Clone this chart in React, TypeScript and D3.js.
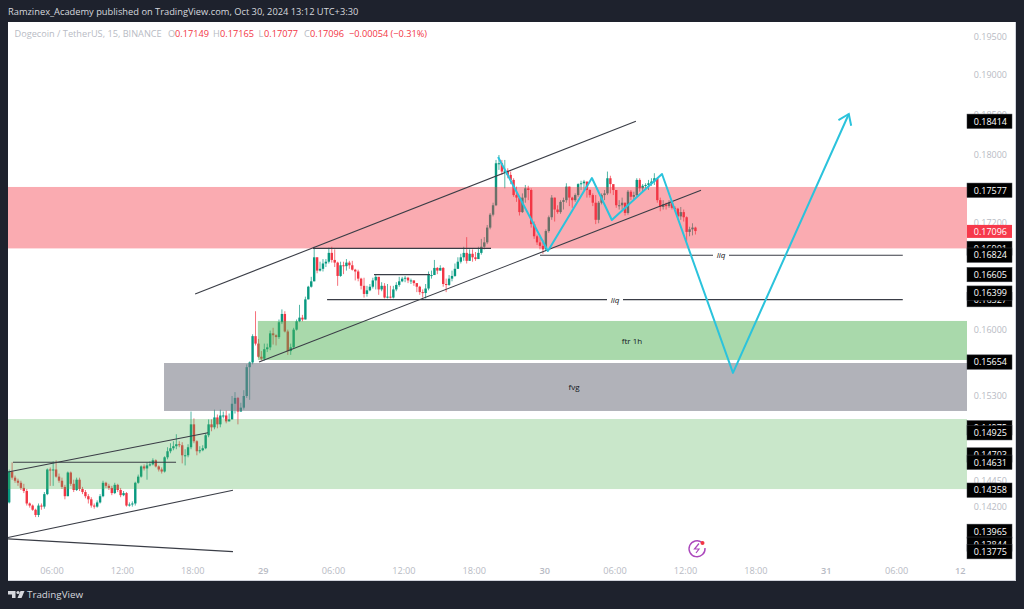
import React from 'react';
import * as d3 from 'd3';

// 15m DOGE/USDT candles, in 1/10000 USDT. Open = previous close.
const firstOpen = 1424;
const closes = [
  1454, 1448, 1445, 1443, 1438, 1435, 1423, 1421, 1417, 1412, 1421, 1420, 1432, 1456, 1455, 1456, 1449, 1445, 1439, 1430,
  1453, 1442, 1436, 1446, 1437, 1434, 1430, 1427, 1421, 1420, 1424, 1430, 1443, 1440, 1438, 1433, 1441, 1436, 1431, 1433,
  1421, 1422, 1423,
  1443, 1449, 1459, 1457, 1460, 1461, 1465, 1459, 1456, 1454, 1468, 1474, 1477, 1479, 1481, 1480, 1470, 1470, 1478,
  1501, 1484, 1474, 1475, 1477, 1490, 1501, 1498, 1508, 1501, 1510, 1510, 1504, 1506, 1522, 1528, 1514, 1518, 1530,
  1560, 1565, 1593, 1585, 1571, 1569, 1579, 1581, 1596, 1594, 1592, 1608, 1617, 1598, 1577, 1581, 1600, 1609, 1613, 1611,
  1633, 1647, 1653,
  1680, 1665, 1667, 1673, 1675, 1685, 1677, 1674, 1659, 1671, 1670, 1674, 1671, 1666, 1664, 1656, 1648, 1639, 1643, 1647,
  1654, 1658, 1644, 1648, 1635, 1636, 1635, 1644, 1649, 1653, 1656, 1657, 1654, 1654, 1651, 1647, 1641, 1640, 1645, 1660,
  1660, 1668, 1665, 1668, 1650, 1649, 1656, 1659, 1667, 1675, 1680, 1685, 1676, 1684, 1680, 1678, 1685, 1692,
  1697, 1714, 1729, 1740, 1790, 1790, 1780, 1781, 1776, 1770, 1752, 1749, 1732, 1749, 1760, 1758, 1718, 1704, 1697, 1693, 1689,
  1710, 1726, 1749, 1735, 1732, 1744, 1746, 1762, 1749, 1746, 1752, 1765, 1766, 1768, 1758, 1752, 1743, 1723,
  1743, 1752, 1754, 1772, 1765, 1758, 1740, 1740, 1743, 1731, 1756, 1750, 1752, 1770, 1760, 1763, 1764, 1766, 1768, 1772,
  1746, 1738, 1741, 1739, 1743, 1737, 1736, 1727, 1732, 1726, 1709, 1712, 1714, 1710,
];
const highs = [
  1456, 1463, 1450, 1447, 1445, 1442, 1437, 1424, 1422, 1418, 1423, 1423, 1434, 1457, 1458, 1464, 1465, 1452, 1448, 1441,
  1454, 1454, 1446, 1448, 1448, 1439, 1436, 1432, 1429, 1423, 1426, 1432, 1445, 1444, 1442, 1440, 1443, 1442, 1438, 1435,
  1434, 1424, 1425,
  1444, 1451, 1460, 1461, 1463, 1464, 1467, 1466, 1460, 1458, 1469, 1478, 1482, 1484, 1491, 1484, 1483, 1476, 1481,
  1514, 1507, 1485, 1479, 1480, 1492, 1506, 1506, 1516, 1511, 1516, 1514, 1515, 1512, 1530, 1534, 1529, 1523, 1536,
  1563, 1566, 1595, 1620, 1590, 1577, 1585, 1585, 1599, 1602, 1595, 1611, 1622, 1620, 1600, 1585, 1602, 1611, 1627, 1616,
  1636, 1648, 1658,
  1692, 1680, 1675, 1678, 1678, 1691, 1692, 1689, 1675, 1675, 1675, 1678, 1676, 1676, 1667, 1666, 1657, 1657, 1648, 1650,
  1657, 1660, 1658, 1652, 1651, 1650, 1648, 1648, 1652, 1658, 1658, 1659, 1658, 1656, 1654, 1651, 1648, 1644, 1650, 1664,
  1665, 1677, 1669, 1671, 1669, 1656, 1660, 1665, 1673, 1680, 1684, 1692, 1703, 1689, 1689, 1686, 1692, 1701,
  1703, 1717, 1731, 1743, 1794, 1800, 1794, 1794, 1784, 1780, 1772, 1762, 1751, 1754, 1764, 1763, 1760, 1721, 1706, 1703, 1700,
  1712, 1728, 1752, 1749, 1740, 1746, 1749, 1766, 1762, 1750, 1754, 1766, 1769, 1770, 1768, 1759, 1754, 1752,
  1745, 1754, 1758, 1780, 1775, 1763, 1758, 1746, 1749, 1743, 1758, 1758, 1756, 1772, 1772, 1765, 1766, 1770, 1772, 1778,
  1772, 1749, 1746, 1743, 1746, 1743, 1739, 1737, 1738, 1735, 1727, 1715, 1719, 1715,
];
const lows = [
  1423, 1446, 1443, 1440, 1436, 1433, 1421, 1419, 1416, 1410, 1410, 1417, 1418, 1431, 1440, 1440, 1448, 1443, 1437, 1427,
  1430, 1440, 1434, 1435, 1435, 1432, 1428, 1423, 1419, 1418, 1419, 1423, 1429, 1438, 1436, 1431, 1432, 1434, 1429, 1430,
  1420, 1420, 1420,
  1421, 1442, 1448, 1455, 1446, 1459, 1460, 1458, 1454, 1452, 1453, 1466, 1472, 1475, 1476, 1478, 1462, 1460, 1468,
  1476, 1482, 1470, 1472, 1474, 1476, 1488, 1494, 1496, 1497, 1498, 1507, 1502, 1504, 1506, 1512, 1501, 1514, 1516,
  1528, 1526, 1563, 1583, 1570, 1567, 1567, 1576, 1578, 1584, 1583, 1590, 1606, 1597, 1573, 1573, 1580, 1599, 1608, 1609,
  1611, 1633, 1646,
  1653, 1662, 1664, 1664, 1669, 1673, 1674, 1669, 1648, 1658, 1661, 1665, 1667, 1665, 1654, 1653, 1644, 1635, 1636, 1642,
  1645, 1644, 1638, 1642, 1634, 1634, 1634, 1634, 1642, 1647, 1652, 1652, 1651, 1650, 1648, 1641, 1638, 1635, 1634, 1643,
  1656, 1661, 1661, 1665, 1647, 1641, 1648, 1653, 1658, 1667, 1673, 1676, 1673, 1676, 1675, 1676, 1680, 1683,
  1689, 1695, 1712, 1727, 1739, 1782, 1776, 1760, 1772, 1765, 1750, 1744, 1728, 1731, 1743, 1746, 1714, 1701, 1694, 1689, 1684,
  1687, 1708, 1723, 1721, 1730, 1730, 1735, 1743, 1739, 1737, 1744, 1750, 1758, 1758, 1749, 1749, 1739, 1718,
  1719, 1741, 1746, 1752, 1754, 1752, 1737, 1735, 1735, 1728, 1729, 1746, 1746, 1750, 1756, 1756, 1758, 1758, 1763, 1764,
  1743, 1733, 1735, 1735, 1737, 1735, 1733, 1723, 1723, 1721, 1698, 1704, 1705, 1706,
];

// axis labels
const timeBars = [15, 39, 63, 87, 111, 135, 159, 183, 207, 231, 255, 279, 303];
const timeLabels = ['06:00', '12:00', '18:00', '29', '06:00', '12:00', '18:00', '30', '06:00', '12:00', '18:00', '31', '06:00'];
const priceTicks = [0.195, 0.19, 0.185, 0.18, 0.172, 0.16, 0.1565, 0.153, 0.1445, 0.142];
// drawn in this order, so later labels sit on top of the earlier ones
const drawnPriceLabels = [0.18414, 0.17577, 0.16901, 0.16824, 0.16605, 0.16327, 0.16399, 0.15654, 0.14975, 0.14925, 0.14703, 0.14631, 0.14358, 0.13965, 0.13844, 0.13775];
const lastPrice = 0.17096;

// drawn boxes: [first bar, last bar, top price, bottom price]
const lightGreenZone = [0, 327, 0.15064, 0.14369];
const greyZone = [53.2, 327, 0.15644, 0.15146];
const greenZone = [85.2, 327, 0.16094, 0.15676];
const pinkZone = [0, 327, 0.17616, 0.16901];

// trend lines: [bar, price, bar, price]
const trendLines = [
  [63.8, 0.16389, 214.1, 0.18414],
  [85.6, 0.15654, 236.3, 0.17577],
  [104, 0.16901, 164.7, 0.16901],
  [124.8, 0.16605, 143.9, 0.16605],
  [181.4, 0.16824, 305.1, 0.16824],
  [108.8, 0.16327, 305.1, 0.16327],
  [1.7, 0.14631, 57.3, 0.14631],
  [0, 0.14535, 68.2, 0.14925],
  [0, 0.13907, 76.7, 0.14358],
  [0, 0.13894, 76.7, 0.13775],
];
const pathBars = [167.1, 184.1, 199.1, 205.9, 223, 247.2, 286.7];
const pathPrices = [0.17976, 0.16872, 0.17723, 0.17228, 0.17771, 0.1554, 0.18505];

const GREEN = '#089981';
const RED = '#f23645';
const AXIS_TEXT = '#b8bbc4';
const FONT = '"Open Sans", sans-serif';

const x = d3.scaleLinear().domain([0, 327]).range([8, 967]);
const y = d3.scaleLog().domain([0.18, 0.142]).range([155, 506.6]);
const barX = (i: number) => x(i + 0.4);

const pathLine = d3.line<number>().x((b) => x(b)).y((_, i) => y(pathPrices[i]));

const Zone = ({ zone, fill, opacity }: { zone: number[]; fill: string; opacity: number }) => (
  <rect
    x={x(zone[0])}
    y={y(zone[2])}
    width={x(zone[1]) - x(zone[0])}
    height={y(zone[3]) - y(zone[2])}
    fill={fill}
    opacity={opacity}
  />
);

const arrowHead = () => {
  const n = pathBars.length;
  const tipX = x(pathBars[n - 1]);
  const tipY = y(pathPrices[n - 1]);
  const back = Math.atan2(y(pathPrices[n - 2]) - tipY, x(pathBars[n - 2]) - tipX);
  const barb = (a: number) => `${tipX + 12 * Math.cos(back + a)},${tipY + 12 * Math.sin(back + a)}`;
  return `M${barb(0.62)}L${tipX},${tipY}L${barb(-0.62)}`;
};

const App = () => {
  const opens = closes.map((_, i) => (i === 0 ? firstOpen : closes[i - 1]));

  return (
    <svg
      width={1024}
      height={609}
      style={{ position: 'absolute', left: 0, top: 0, display: 'block', fontFamily: FONT }}
    >
      <rect width={1024} height={609} fill="#1e222d" />
      <rect x={8} y={22} width={1008} height={559} fill="#ffffff" />
      <path d="M8,580.5H1015.5V22" fill="none" stroke="#d1d4dc" />

      <text x={8} y={15} fontSize={9.3} fill="#d6d8de">
        Ramzinex_Academy published on TradingView.com, Oct 30, 2024 13:12 UTC+3:30
      </text>

      {/* candles */}
      {closes.map((c, i) => {
        const color = c >= opens[i] ? GREEN : RED;
        const top = y(Math.max(c, opens[i]) / 1e4);
        const bottom = y(Math.min(c, opens[i]) / 1e4);
        return (
          <g key={i}>
            <line x1={barX(i)} x2={barX(i)} y1={y(highs[i] / 1e4)} y2={y(lows[i] / 1e4)} stroke={color} strokeOpacity={0.7} />
            <rect x={barX(i) - 1.2} y={top} width={2.4} height={Math.max(bottom - top, 1)} fill={color} />
          </g>
        );
      })}

      {/* boxes go over the candles, translucent */}
      <Zone zone={lightGreenZone} fill="#4caf50" opacity={0.3} />
      <Zone zone={greyZone} fill="#787b86" opacity={0.58} />
      <Zone zone={greenZone} fill="#4caf50" opacity={0.48} />
      <Zone zone={pinkZone} fill={RED} opacity={0.42} />

      {trendLines.map((l, i) => (
        <line key={i} x1={x(l[0])} y1={y(l[1])} x2={x(l[2])} y2={y(l[3])} stroke="#3a3d46" strokeWidth={1.1} />
      ))}

      <path d={pathLine(pathBars) ?? ''} fill="none" stroke="#2bc3dc" strokeWidth={2} strokeLinejoin="round" />
      <path d={arrowHead()} fill="none" stroke="#2bc3dc" strokeWidth={2} />

      {/* box and line captions */}
      <g fontSize={8} fill="#131722" textAnchor="middle">
        <text x={632} y={344}>ftr 1h</text>
        <text x={574} y={390}>fvg</text>
        <rect x={713} y={250} width={16} height={11} fill="#ffffff" />
        <text x={721} y={258} fontStyle="italic">liq</text>
        <rect x={607} y={295} width={16} height={11} fill="#ffffff" />
        <text x={615} y={303} fontStyle="italic">liq</text>
      </g>

      {/* legend */}
      <g fontSize={9.2} fill={AXIS_TEXT}>
        <text x={14.5} y={37}>Dogecoin / TetherUS, 15, BINANCE</text>
        <text x={168} y={37}>O</text>
        <text x={213} y={37}>H</text>
        <text x={258.5} y={37}>L</text>
        <text x={304} y={37}>C</text>
        <g fill={RED}>
          <text x={175} y={37}>0.17149</text>
          <text x={220} y={37}>0.17165</text>
          <text x={264} y={37}>0.17077</text>
          <text x={310} y={37}>0.17096</text>
          <text x={349} y={37}>−0.00054 (−0.31%)</text>
        </g>
      </g>

      {/* time axis */}
      <g fontSize={9.2} fill={AXIS_TEXT} textAnchor="middle">
        {timeBars.map((b, i) => (
          <text key={b} x={x(b)} y={574} fontWeight={timeLabels[i].length === 2 ? 600 : 400}>
            {timeLabels[i]}
          </text>
        ))}
      </g>
      <text x={955} y={574} fontSize={9.2} fontWeight={600} fill={AXIS_TEXT}>12</text>

      {/* price axis */}
      <g fontSize={9} textAnchor="end">
        {priceTicks.map((p) => (
          <text key={p} x={1007} y={y(p) + 3.3} fill={AXIS_TEXT}>
            {p.toFixed(5)}
          </text>
        ))}
        {drawnPriceLabels.map((p) => (
          <g key={p}>
            <rect x={967} y={y(p) - 7.2} width={45} height={14.4} fill="#000000" stroke="#3a3d45" strokeWidth={0.5} />
            <text x={1007} y={y(p) + 3.3} fill="#ffffff">{p.toFixed(5)}</text>
          </g>
        ))}
        <rect x={967} y={y(lastPrice) - 6.5} width={45} height={13} fill="#f7394b" />
        <text x={1007} y={y(lastPrice) + 3.3} fill="#ffffff">{lastPrice.toFixed(5)}</text>
      </g>

      {/* the purple bolt badge */}
      <g fill="none" stroke="#ab47bc" strokeWidth={1.4}>
        <path d="M702,542.5A8,8 0 1 0 705,548" />
        <path d="M699,543.5L694.5,549H699L696,553" strokeWidth={1.2} />
      </g>
      <circle cx={702.5} cy={543} r={2} fill="#f23645" />

      {/* TradingView mark */}
      <g fill="#d6d8de">
        <path d="M8,591H15.5V598H12V594.5H8Z" />
        <circle cx={18} cy={592.5} r={1.6} />
        <path d="M20.5,591H24.5L21.5,598H17.5Z" />
      </g>
      <text x={27} y={598} fontSize={9.8} fill="#d6d8de">TradingView</text>
    </svg>
  );
};

export default App;
